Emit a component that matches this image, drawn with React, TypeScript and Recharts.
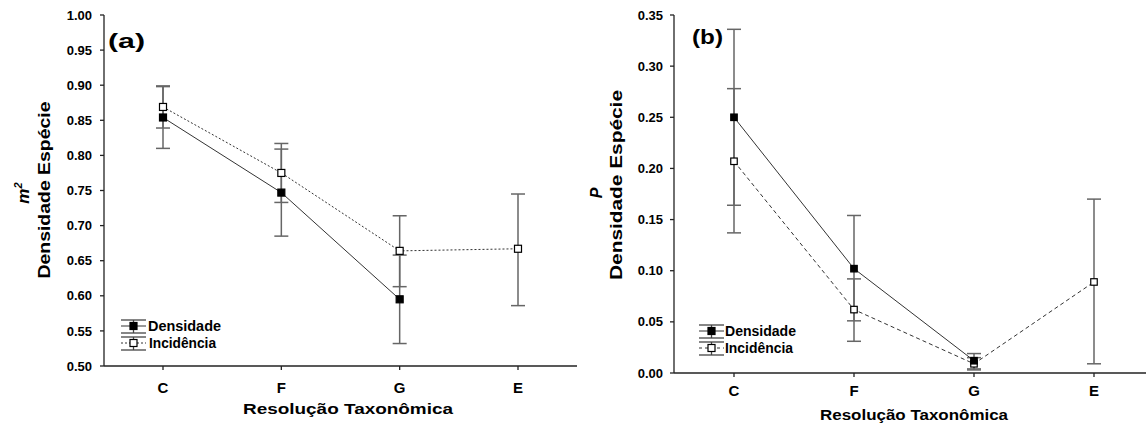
import React from 'react';
import { LineChart, Line, XAxis, YAxis, ErrorBar } from 'recharts';

const FONT = '"Liberation Sans", Arial, Helvetica, sans-serif';

// categories shared by both panels
const categories = ['C', 'F', 'G', 'E'];

// panel (a) — m²
const densA = [0.854, 0.747, 0.595, null];
const densALow = [0.81, 0.685, 0.532, null];
const densAHigh = [0.898, 0.809, 0.658, null];
const incA = [0.869, 0.775, 0.664, 0.667];
const incALow = [0.839, 0.733, 0.613, 0.586];
const incAHigh = [0.899, 0.817, 0.714, 0.745];
const ticksA = [0.5, 0.55, 0.6, 0.65, 0.7, 0.75, 0.8, 0.85, 0.9, 0.95, 1.0];

// panel (b) — P
const densB = [0.25, 0.102, 0.012, null];
const densBLow = [0.164, 0.051, 0.004, null];
const densBHigh = [0.336, 0.154, 0.019, null];
const incB = [0.207, 0.062, 0.009, 0.089];
const incBLow = [0.137, 0.031, 0.003, 0.009];
const incBHigh = [0.278, 0.092, 0.015, 0.17];
const ticksB = [0, 0.05, 0.1, 0.15, 0.2, 0.25, 0.3, 0.35];

type Num = number | null;

function buildRows(dens: Num[], dLo: Num[], dHi: Num[], inc: Num[], iLo: Num[], iHi: Num[]) {
  return categories.map((cat, i) => {
    const d = dens[i];
    const v = inc[i];
    return {
      cat,
      dens: d,
      densErr: d == null ? null : [d - (dLo[i] as number), (dHi[i] as number) - d],
      inc: v,
      incErr: v == null ? null : [v - (iLo[i] as number), (iHi[i] as number) - v],
    };
  });
}

const rowsA = buildRows(densA, densALow, densAHigh, incA, incALow, incAHigh);
const rowsB = buildRows(densB, densBLow, densBHigh, incB, incBLow, incBHigh);

const square = (fill: string, size: number) => (props: any) => {
  const { cx, cy, index } = props;
  if (cx == null || cy == null || props.value == null) return <g key={`n${index}`} />;
  return (
    <rect
      key={`d${index}`}
      x={cx - size / 2}
      y={cy - size / 2}
      width={size}
      height={size}
      fill={fill}
      stroke="#000"
      strokeWidth={1.2}
    />
  );
};

const tickStyle = { fill: '#000', fontSize: 13, fontWeight: 700, fontFamily: FONT };
const xTickStyle = { fill: '#000', fontSize: 15, fontWeight: 700, fontFamily: FONT };
const AXIS = '#222';
const ERR = '#666';

function Panel({ rows, ticks, domain, yWidth, xHeight, right, incDash, tickMargin, xTickMargin, size, pad }: any) {
  return (
    <LineChart
      width={580}
      height={427}
      data={rows}
      margin={{ top: 15, right, bottom: 0, left: 0 }}
    >
      <XAxis
        dataKey="cat"
        height={xHeight}
        tick={xTickStyle}
        tickSize={4}
        tickMargin={xTickMargin}
        stroke={AXIS}
        strokeWidth={1.3}
        interval={0}
        padding={{ left: pad, right: pad }}
      />
      <XAxis
        xAxisId="top"
        dataKey="cat"
        orientation="top"
        height={0}
        tick={false}
        tickLine={false}
        stroke={AXIS}
        strokeWidth={1.3}
        padding={{ left: pad, right: pad }}
      />
      <YAxis
        domain={domain}
        ticks={ticks}
        width={yWidth}
        tick={tickStyle}
        tickSize={4}
        tickMargin={tickMargin}
        tickFormatter={(v: number) => v.toFixed(2)}
        stroke={AXIS}
        strokeWidth={1.3}
        allowDataOverflow
        interval={0}
      />
      <YAxis
        yAxisId="r"
        orientation="right"
        domain={domain}
        width={0}
        tick={false}
        tickLine={false}
        stroke={AXIS}
        strokeWidth={1.3}
      />
      <Line
        dataKey="inc"
        stroke="#333"
        strokeWidth={1}
        strokeDasharray={incDash}
        dot={square('#fff', size)}
        isAnimationActive={false}
        connectNulls={false}
      >
        <ErrorBar dataKey="incErr" direction="y" width={7} stroke={ERR} strokeWidth={1.5} />
      </Line>
      <Line
        dataKey="dens"
        stroke="#333"
        strokeWidth={1}
        dot={square('#000', size)}
        isAnimationActive={false}
        connectNulls={false}
      >
        <ErrorBar dataKey="densErr" direction="y" width={7} stroke={ERR} strokeWidth={1.5} />
      </Line>
    </LineChart>
  );
}

function LegendSymbol({ x, y, filled, dash }: { x: number; y: number; filled: boolean; dash?: string }) {
  // y = centre line of the row
  const w = 25;
  return (
    <g>
      <line x1={x} y1={y - 6} x2={x + w} y2={y - 6} stroke="#444" strokeWidth={1.3} />
      <line x1={x} y1={y + 7} x2={x + w} y2={y + 7} stroke="#444" strokeWidth={1.3} />
      <line x1={x + w / 2} y1={y - 6} x2={x + w / 2} y2={y + 7} stroke="#444" strokeWidth={1.3} />
      <line x1={x} y1={y} x2={x + w} y2={y} stroke="#333" strokeWidth={1} strokeDasharray={dash} />
      <rect x={x + w / 2 - 3.5} y={y - 3.5} width={7} height={7} fill={filled ? '#000' : '#fff'} stroke="#000" strokeWidth={1.2} />
    </g>
  );
}

export default function App() {
  const bold = { fontFamily: FONT, fontWeight: 700, fill: '#000' } as const;
  return (
    <div style={{ position: 'absolute', left: 0, top: 0, width: 1146, height: 427, overflow: 'hidden', background: '#fff' }}>
      <div style={{ position: 'absolute', left: 0, top: 0 }}>
        <Panel rows={rowsA} ticks={ticksA} domain={[0.5, 1.0]} yWidth={104} xHeight={61} right={3}
          incDash="2 2" tickMargin={8} xTickMargin={12} size={7} pad={59} />
      </div>
      <div style={{ position: 'absolute', left: 580, top: 0 }}>
        <Panel rows={rowsB} ticks={ticksB} domain={[0, 0.35]} yWidth={94} xHeight={54} right={6}
          incDash="4 3" tickMargin={7} xTickMargin={8} size={6.5} pad={60} />
      </div>
      <svg width={1146} height={427} style={{ position: 'absolute', left: 0, top: 0, pointerEvents: 'none' }}>
        {/* panel letters */}
        <text x={108} y={48} fontSize={21} textLength={37} lengthAdjust="spacingAndGlyphs" {...bold}>(a)</text>
        <text x={692} y={44} fontSize={21} textLength={31} lengthAdjust="spacingAndGlyphs" {...bold}>(b)</text>

        {/* y titles */}
        <g transform="translate(50,190) rotate(-90)">
          <text x={0} y={0} textAnchor="middle" fontSize={17} textLength={177} lengthAdjust="spacingAndGlyphs" {...bold}>Densidade Espécie</text>
        </g>
        <g transform="translate(29,193) rotate(-90)">
          <text x={0} y={0} textAnchor="middle" fontSize={17} fontStyle="italic" {...bold}>
            m<tspan dy={-7} fontSize={11}>2</tspan>
          </text>
        </g>
        <g transform="translate(622,185) rotate(-90)">
          <text x={0} y={0} textAnchor="middle" fontSize={16} textLength={190} lengthAdjust="spacingAndGlyphs" {...bold}>Densidade Espécie</text>
        </g>
        <g transform="translate(602,193) rotate(-90)">
          <text x={0} y={0} textAnchor="middle" fontSize={16} fontStyle="italic" {...bold}>P</text>
        </g>

        {/* x titles */}
        <text x={243} y={414} fontSize={15} textLength={210} lengthAdjust="spacingAndGlyphs" {...bold}>Resolução Taxonômica</text>
        <text x={820} y={420} fontSize={14} textLength={188} lengthAdjust="spacingAndGlyphs" {...bold}>Resolução Taxonômica</text>

        {/* legend (a) */}
        <LegendSymbol x={121} y={326} filled />
        <LegendSymbol x={121} y={343} filled={false} dash="2 2" />
        <text x={148} y={331} fontSize={14} textLength={73} lengthAdjust="spacingAndGlyphs" {...bold}>Densidade</text>
        <text x={149} y={348} fontSize={14} textLength={67} lengthAdjust="spacingAndGlyphs" {...bold}>Incidência</text>

        {/* legend (b) */}
        <LegendSymbol x={699} y={331} filled />
        <LegendSymbol x={699} y={348} filled={false} dash="3 3" />
        <text x={725} y={336} fontSize={14} textLength={71} lengthAdjust="spacingAndGlyphs" {...bold}>Densidade</text>
        <text x={725} y={353} fontSize={14} textLength={68} lengthAdjust="spacingAndGlyphs" {...bold}>Incidência</text>
      </svg>
    </div>
  );
}
